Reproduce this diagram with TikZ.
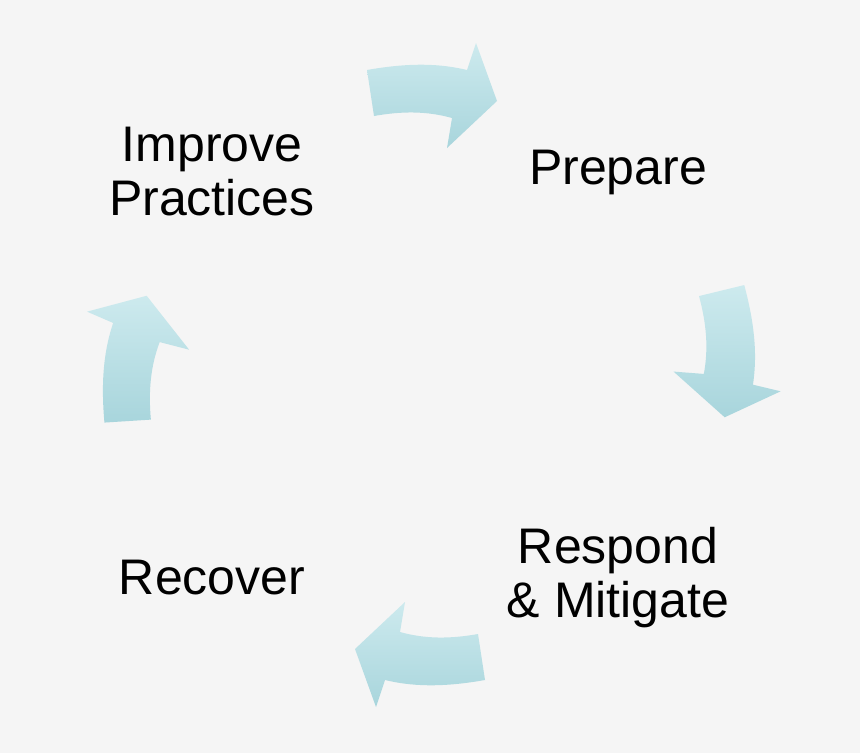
\documentclass[tikz,border=0pt]{standalone}
\usepackage{fontspec}
\setmainfont{Liberation Sans}
\definecolor{bgcol}{HTML}{F5F5F5}
\definecolor{arrowlight}{HTML}{CDEAEE}
\definecolor{arrowdark}{HTML}{A8D5DC}
\tikzset{
  label/.style = {align=center, font=\fontsize{50}{54}\selectfont, text=black},
  cyclearrow/.pic = {
    \shade[top color=arrowlight, bottom color=arrowdark, draw=none]
      (-65,-25) .. controls (-20,-33) and (10,-31) .. (35,-25)
      -- (44,-52) -- (65,6) -- (15,53) -- (20,23)
      .. controls (-5,16) and (-30,16) .. (-58,21) -- cycle;
  }
}
\begin{document}
\begin{tikzpicture}[x=1pt,y=-1pt]
\fill[bgcol] (0,0) rectangle (860,753);
\useasboundingbox (0,0) rectangle (860,753);

% cycle arrows
\pic[rotate=0]   at (432,95)  {cyclearrow};
\pic[rotate=275] at (725,352) {cyclearrow};
\pic[rotate=180] at (420,655) {cyclearrow};
\pic[rotate=85]  at (135,360) {cyclearrow};

% stages
\node[label] (improve) at (212,172) {Improve\\Practices};
\node[label] (prepare) at (618,172) {Prepare};
\node[label] (respond) at (618,578) {Respond\\\& Mitigate};
\node[label] (recover) at (212,578) {Recover};
\end{tikzpicture}
\end{document}
